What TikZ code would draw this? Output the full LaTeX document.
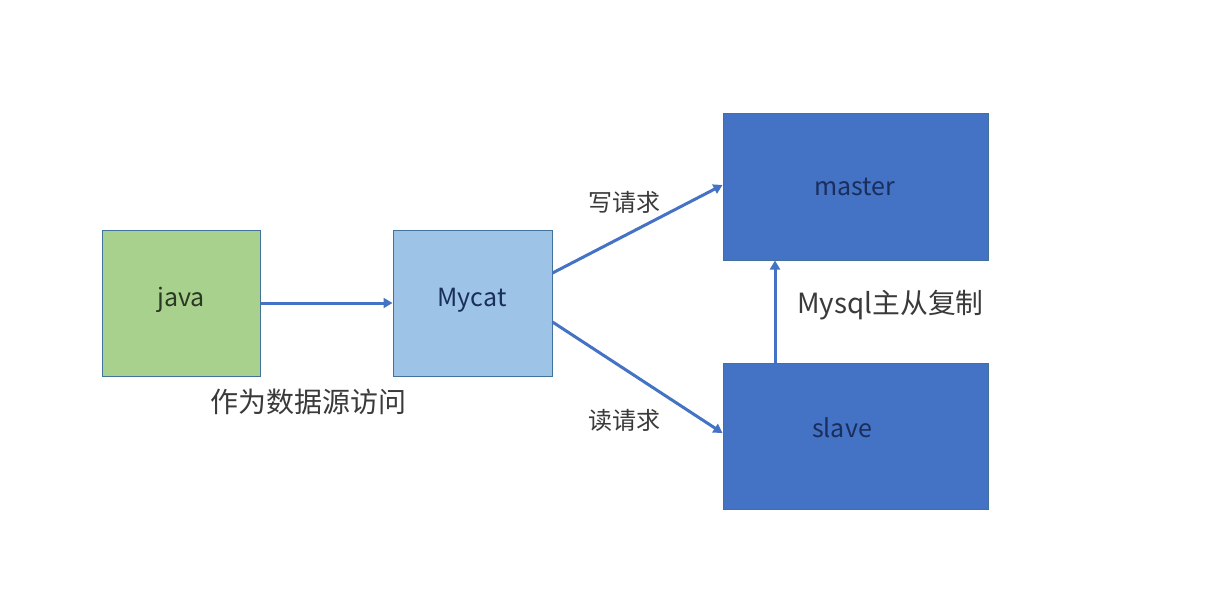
\documentclass[tikz,border=0pt]{standalone}
\usepackage{fontspec}
\setmainfont{Noto Sans CJK SC}
\usetikzlibrary{arrows.meta}
\definecolor{javafill}{HTML}{A9D18E}
\definecolor{mycatfill}{HTML}{9DC3E6}
\definecolor{dbfill}{HTML}{4472C4}
\definecolor{boxline}{HTML}{41719C}
\definecolor{arrowc}{HTML}{4472C4}
\definecolor{labelc}{HTML}{3A3A3A}
\definecolor{darktext}{HTML}{1A2E5C}
\definecolor{greentext}{HTML}{2A3824}
\tikzset{
  box/.style={draw=boxline, line width=1pt, inner sep=0pt},
  boxtext/.style={font=\fontsize{25}{28}\selectfont},
  conn/.style={draw=arrowc, line width=3pt, -{Triangle[length=9pt,width=10pt]}},
  lbl/.style={text=labelc, inner sep=0pt},
}
\begin{document}
\begin{tikzpicture}[x=1pt,y=-1pt]
\useasboundingbox[fill=white] (0,0) rectangle (1232,613);
\node[box, fill=javafill, minimum width=158pt, minimum height=146pt] (java) at (181,303) {};
\node[boxtext, text=greentext] (javat) at (181,300) {java};
\node[box, fill=mycatfill, minimum width=159pt, minimum height=146pt] (mycat) at (472.5,303) {};
\node[boxtext, text=darktext] (mycatt) at (472,300) {Mycat};
\node[box, fill=dbfill, minimum width=265pt, minimum height=147pt] (master) at (855.5,186.5) {};
\node[boxtext, text=darktext] (mastert) at (855,187) {master};
\node[box, fill=dbfill, minimum width=265pt, minimum height=146pt] (slave) at (855.5,436) {};
\node[boxtext, text=darktext] (slavet) at (842,428) {slave};

\draw[conn] (java.east) -- (mycat.west);
\draw[conn] ([yshift=30pt]mycat.east) -- ([yshift=1.5pt]master.west);
\draw[conn] ([yshift=-19pt]mycat.east) -- ([yshift=3pt]slave.west);
\draw[conn] ([xshift=-80.5pt]slave.north) -- ([xshift=-80.5pt]master.south);

\node[lbl, font=\fontsize{28}{32}\selectfont] (src) at (308,402) {作为数据源访问};
\node[lbl, font=\fontsize{24}{28}\selectfont] (w) at (624,202) {写请求};
\node[lbl, font=\fontsize{24}{28}\selectfont] (r) at (624,420) {读请求};
\node[lbl, font=\fontsize{27.8}{31}\selectfont, anchor=west] (rep) at (797,305) {Mysql主从复制};
\end{tikzpicture}
\end{document}
